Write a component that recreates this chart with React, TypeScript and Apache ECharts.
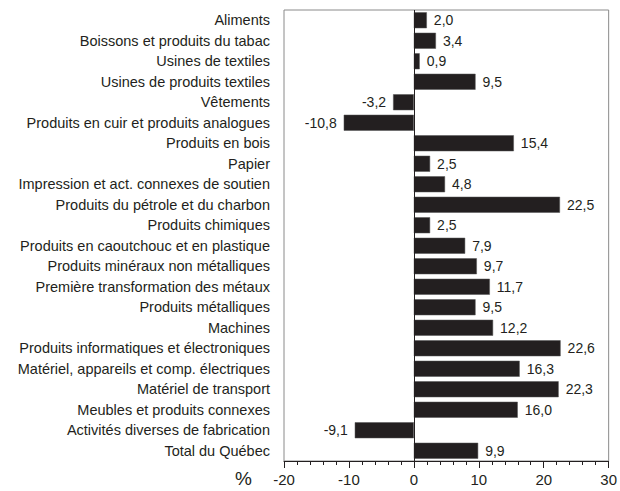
import React, { useEffect, useRef } from "react";
import * as echarts from "echarts";

const categories = [
  "Aliments",
  "Boissons et produits du tabac",
  "Usines de textiles",
  "Usines de produits textiles",
  "Vêtements",
  "Produits en cuir et produits analogues",
  "Produits en bois",
  "Papier",
  "Impression et act. connexes de soutien",
  "Produits du pétrole et du charbon",
  "Produits chimiques",
  "Produits en caoutchouc et en plastique",
  "Produits minéraux non métalliques",
  "Première transformation des métaux",
  "Produits métalliques",
  "Machines",
  "Produits informatiques et électroniques",
  "Matériel, appareils et comp. électriques",
  "Matériel de transport",
  "Meubles et produits connexes",
  "Activités diverses de fabrication",
  "Total du Québec",
];

const values = [
  2.0, 3.4, 0.9, 9.5, -3.2, -10.8, 15.4, 2.5, 4.8, 22.5, 2.5, 7.9, 9.7, 11.7,
  9.5, 12.2, 22.6, 16.3, 22.3, 16.0, -9.1, 9.9,
];

const axisMin = -20;
const axisMax = 30;
const axisInterval = 10;

const FONT = "'Liberation Sans', Arial, sans-serif";
const DARK = "#231f20";

export default function App() {
  const ref = useRef<HTMLDivElement>(null);
  useEffect(() => {
    document.body.style.margin = "0";
    if (!ref.current) return;
    const chart = echarts.init(ref.current, null, { renderer: "svg" });
    chart.setOption({
      animation: false,
      backgroundColor: "#ffffff",
      textStyle: { fontFamily: FONT },
      grid: {
        left: 284,
        right: 8,
        top: 10,
        bottom: 30,
        show: true,
        borderColor: "#8a8a8a",
        borderWidth: 1,
        backgroundColor: "transparent",
      },
      xAxis: {
        type: "value",
        min: axisMin,
        max: axisMax,
        interval: axisInterval,
        splitLine: { show: false },
        axisLine: { show: true, lineStyle: { color: DARK, width: 1 } },
        axisTick: { show: true, length: 7, lineStyle: { color: DARK } },
        minorTick: { show: true, splitNumber: 5, length: 4, lineStyle: { color: DARK } },
        axisLabel: {
          color: DARK,
          fontSize: 15,
          fontFamily: FONT,
          margin: 11,
          formatter: (v: number) => String(v),
        },
      },
      yAxis: {
        type: "category",
        data: categories,
        inverse: true,
        axisLine: { show: false },
        axisTick: { show: false },
        splitLine: { show: false },
        axisLabel: {
          color: DARK,
          fontSize: 14.5,
          fontFamily: FONT,
          margin: 14,
        },
      },
      graphic: [
        {
          type: "text",
          left: 235,
          top: 469,
          style: { text: "%", fontSize: 19, fill: DARK, fontFamily: FONT },
        },
      ],
      series: [
        {
          type: "bar",
          barWidth: 16,
          data: values.map((v) => ({
            value: v,
            label: {
              show: true,
              position: v < 0 ? "left" : "right",
              distance: 7,
            },
          })),
          itemStyle: { color: DARK, borderColor: "#555", borderWidth: 0.5 },
          label: {
            color: DARK,
            fontSize: 14,
            fontFamily: FONT,
            formatter: (p: any) => Number(p.value).toFixed(1).replace(".", ","),
          },
          markLine: {
            silent: true,
            symbol: "none",
            label: { show: false },
            lineStyle: { color: DARK, width: 1, type: "solid" },
            data: [{ xAxis: 0 }],
          },
        },
      ],
    });
    return () => chart.dispose();
  }, []);
  return <div ref={ref} style={{ width: 620, height: 491 }} />;
}
